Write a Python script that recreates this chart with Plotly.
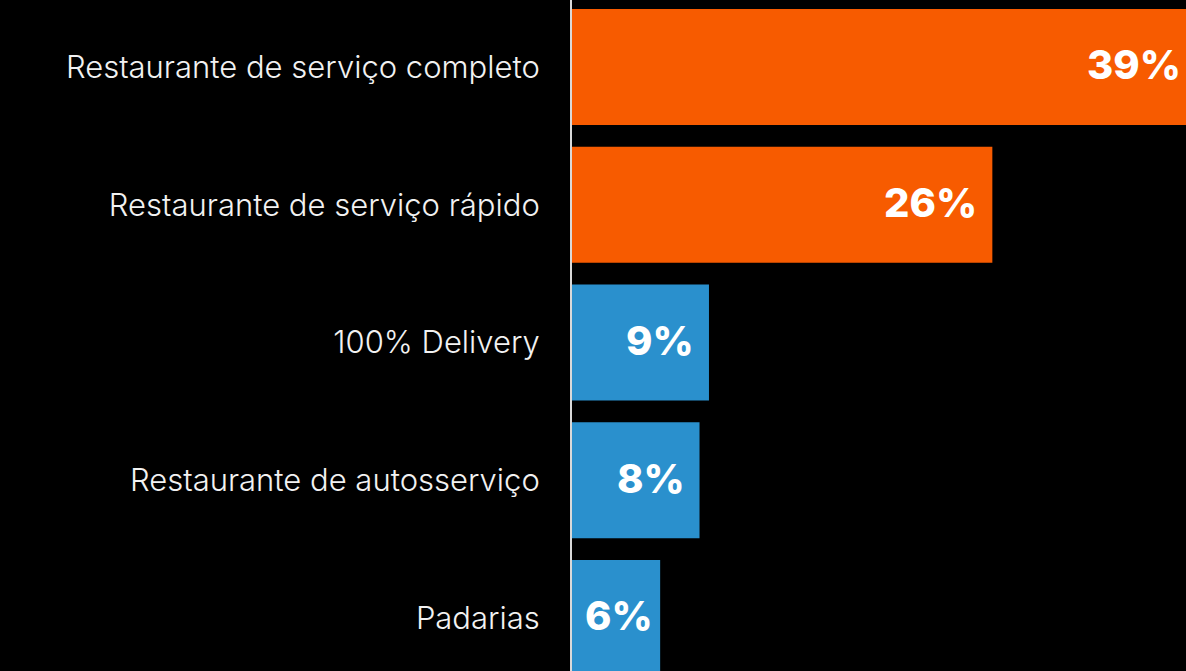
import plotly.graph_objects as go

categories = ["Restaurante de serviço completo", "Restaurante de serviço rápido",
              "100% Delivery", "Restaurante de autosserviço", "Padarias"]
values = [39.0, 26.7, 8.7, 8.1, 5.6]
labels = ["39%", "26%", "9%", "8%", "6%"]
colors = ["#F75B00", "#F75B00", "#2A90CD", "#2A90CD", "#2A90CD"]
label_shift = [-3, -13, -13, -13, -5]

fig = go.Figure()
fig.add_trace(go.Bar(
    y=categories, x=values, orientation="h",
    marker=dict(color=colors, line=dict(width=0)),
    hoverinfo="skip",
))

for c, v, t, s in zip(categories, values, labels, label_shift):
    fig.add_annotation(x=v, y=c, text=t, showarrow=False, xanchor="right",
                       xshift=s, yshift=2,
                       font=dict(family="Inter", size=40, color="white", weight=800))

fig.update_layout(
    width=1186, height=671,
    paper_bgcolor="black", plot_bgcolor="black",
    margin=dict(l=572, r=0, t=0, b=0),
    bargap=0.158,
    showlegend=False,
    xaxis=dict(range=[0, 39.0], showgrid=False, zeroline=False, showticklabels=False,
               showline=False, fixedrange=True),
    yaxis=dict(type="category", range=[4.385, -0.486], showgrid=False, zeroline=False,
               showline=True, linecolor="#d9d9d9", linewidth=2, fixedrange=True,
               ticks="", ticklabelstandoff=24,
               tickfont=dict(family="Inter", size=31, color="#f2f2f2", weight=300)),
)

fig.write_html("out.html", config={"displayModeBar": False},
               post_script="document.body.style.margin='0';document.body.style.background='black';document.body.style.overflow='hidden';")
